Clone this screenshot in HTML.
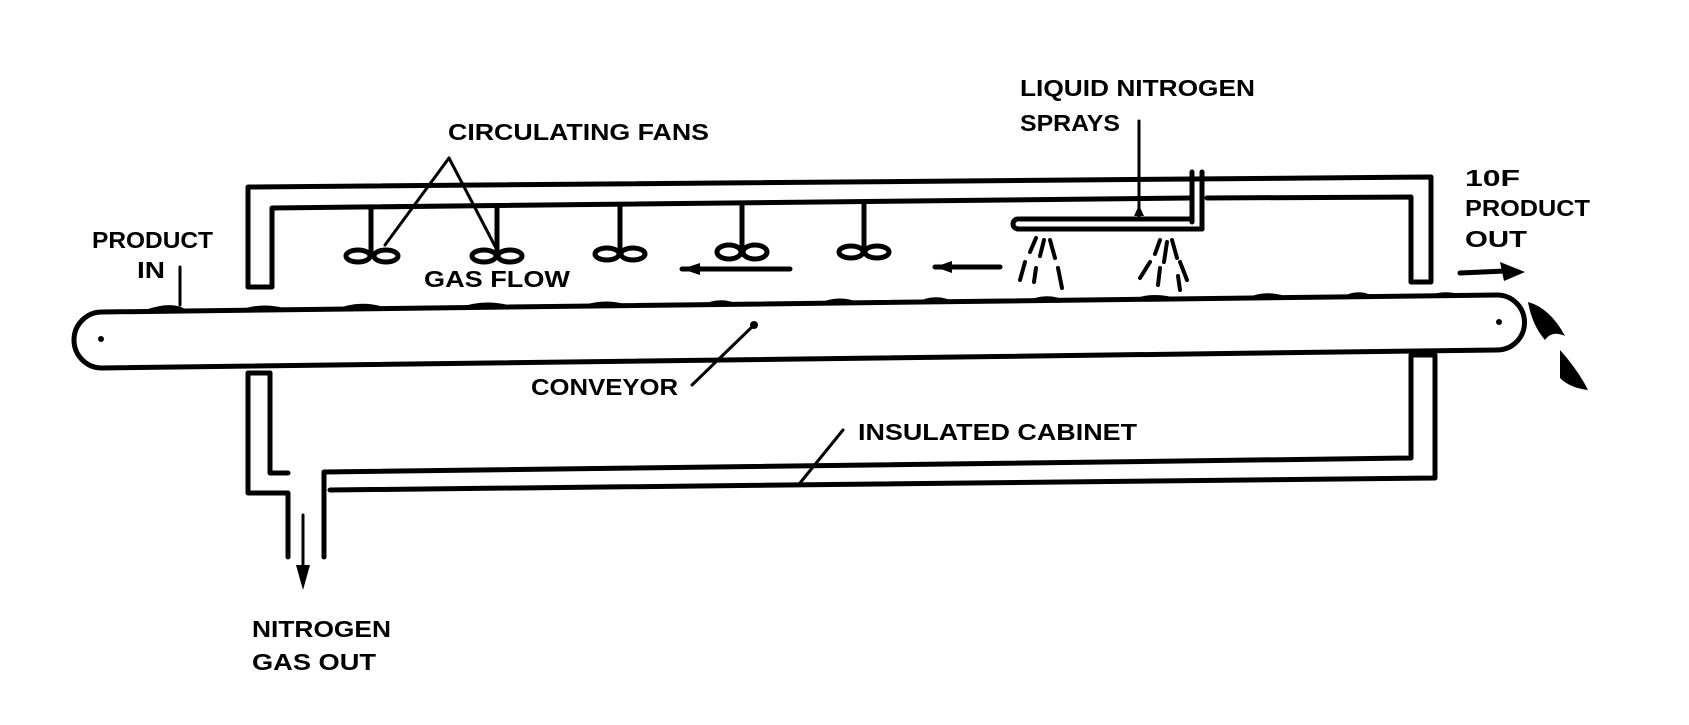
<!DOCTYPE html>
<html><head><meta charset="utf-8"><style>
html,body{margin:0;padding:0;background:#fff;}
svg{display:block}
text{font-family:"Liberation Sans",sans-serif;font-weight:bold;font-size:23px;fill:#000;}
</style></head><body>
<svg width="1689" height="725" viewBox="0 0 1689 725" xmlns="http://www.w3.org/2000/svg">
<g fill="none" stroke="#000" stroke-width="5" stroke-linejoin="round" stroke-linecap="round">
<!-- upper cabinet -->
<path d="M248,287 L248,187 L1431,177 L1431,282 L1411,282 L1411,197 L1207,198"/>
<path d="M1190,198 L272,208 L272,287 L248,287"/>
<!-- vertical LN2 pipe -->
<path d="M1192,172 L1192,222 M1202,172 L1202,229"/>
<!-- spray pipe -->
<path d="M1020,219 L1192,219 M1018,229 L1202,229 M1018,219 A5 5 0 0 0 1018,229"/>
<!-- lower cabinet -->
<path d="M270,373 L248,373 L248,493 L288,493 L288,557"/>
<path d="M270,373 L270,473 L288,473"/>
<path d="M324,557 L324,472 L1411,458 L1411,355 L1435,355 L1435,478 L330,490"/>
<!-- conveyor -->
<path d="M102,312 L1497,295 A27.5 27.5 0 0 1 1497,350 L102,368 A28 28 0 0 1 102,312 Z"/>
<!-- fan stems -->
<path d="M371,207 L371,252 M497,206 L497,252 M620,205 L620,250 M742,203 L742,250 M864,202 L864,250"/>
<!-- leaders -->
<path d="M180,267 L180,305" stroke-width="3"/>
<path d="M449,158 L385,245 M449,158 L497,250" stroke-width="3"/>
<path d="M1139,121 L1139,219" stroke-width="3"/>
<path d="M754,325 L692,385" stroke-width="3"/>
<path d="M843,430 L800,483" stroke-width="3"/>
<!-- gas flow arrows -->
<path d="M682,269 L790,269 M935,267 L1000,267"/>
<path d="M303,515 L303,565" stroke-width="3"/>
<path d="M1460,273 L1505,271"/>
<!-- sprays -->
<g stroke-width="4">
<path d="M1036,238 L1030,252 M1025,262 L1020,280 M1044,240 L1040,256 M1036,268 L1034,282 M1050,240 L1055,258 M1058,268 L1062,288"/>
<path d="M1160,240 L1155,254 M1150,262 L1140,278 M1167,242 L1164,262 M1160,268 L1158,285 M1172,240 L1177,258 M1180,262 L1187,280 M1178,276 L1180,290"/>
</g>
</g>
<!-- fan blades -->
<g fill="#fff" stroke="#000" stroke-width="5">
<ellipse cx="358" cy="256" rx="12" ry="6"/><ellipse cx="386" cy="256" rx="12" ry="6"/>
<ellipse cx="484" cy="256" rx="12" ry="6"/><ellipse cx="510" cy="256" rx="12" ry="6"/>
<ellipse cx="607" cy="254" rx="12" ry="6"/><ellipse cx="633" cy="254" rx="12" ry="6"/>
<ellipse cx="729" cy="252" rx="12" ry="7"/><ellipse cx="755" cy="252" rx="12" ry="7"/>
<ellipse cx="851" cy="252" rx="12" ry="6"/><ellipse cx="877" cy="252" rx="12" ry="6"/>
</g>
<g fill="#000">
<circle cx="101" cy="339" r="3"/>
<circle cx="1499" cy="322" r="3"/>
<circle cx="754" cy="325" r="4"/>
<!-- arrowheads -->
<polygon points="682,269 700,263 700,275"/>
<polygon points="935,267 952,261 952,273"/>
<polygon points="303,590 296,565 310,565"/>
<polygon points="1139,205 1134,216 1144,216"/>
<polygon points="1525,272 1500,262 1504,281"/>
<!-- product mounds -->
<path d="M140,312 Q170,300 185,309 L185,313 Z"/>
<path d="M235,312 Q262,300 290,310 Z"/>
<path d="M335,310 Q360,298 390,309 Z"/>
<path d="M455,309 Q485,297 515,307 Z"/>
<path d="M575,308 Q605,296 630,306 Z"/>
<path d="M700,306 Q720,295 740,305 Z"/>
<path d="M815,305 Q838,293 860,303 Z"/>
<path d="M915,303 Q935,292 955,302 Z"/>
<path d="M1025,302 Q1045,291 1068,301 Z"/>
<path d="M1130,301 Q1150,290 1180,299 Z"/>
<path d="M1245,299 Q1265,288 1290,298 Z"/>
<path d="M1340,298 Q1358,287 1375,297 Z"/>
<path d="M1425,297 Q1445,288 1465,296 Z"/>
<!-- falling product -->
<path d="M1528,302 Q1550,308 1565,336 Q1552,330 1545,340 Q1532,325 1528,302 Z"/>
<path d="M1560,350 Q1578,370 1588,390 Q1570,388 1560,378 Z"/>
</g>
<!-- labels -->
<text x="448" y="140" textLength="261" lengthAdjust="spacingAndGlyphs">CIRCULATING FANS</text>
<text x="1020" y="96" textLength="235" lengthAdjust="spacingAndGlyphs">LIQUID NITROGEN</text>
<text x="1020" y="131" textLength="100" lengthAdjust="spacingAndGlyphs">SPRAYS</text>
<text x="92" y="248" textLength="121" lengthAdjust="spacingAndGlyphs">PRODUCT</text>
<text x="137" y="278" textLength="28" lengthAdjust="spacingAndGlyphs">IN</text>
<text x="424" y="287" textLength="146" lengthAdjust="spacingAndGlyphs">GAS FLOW</text>
<text x="1465" y="186" textLength="55" lengthAdjust="spacingAndGlyphs">10F</text>
<text x="1465" y="216" textLength="125" lengthAdjust="spacingAndGlyphs">PRODUCT</text>
<text x="1465" y="247" textLength="62" lengthAdjust="spacingAndGlyphs">OUT</text>
<text x="531" y="395" textLength="147" lengthAdjust="spacingAndGlyphs">CONVEYOR</text>
<text x="858" y="440" textLength="279" lengthAdjust="spacingAndGlyphs">INSULATED CABINET</text>
<text x="252" y="637" textLength="139" lengthAdjust="spacingAndGlyphs">NITROGEN</text>
<text x="252" y="670" textLength="124" lengthAdjust="spacingAndGlyphs">GAS OUT</text>
</svg>
</body></html>
